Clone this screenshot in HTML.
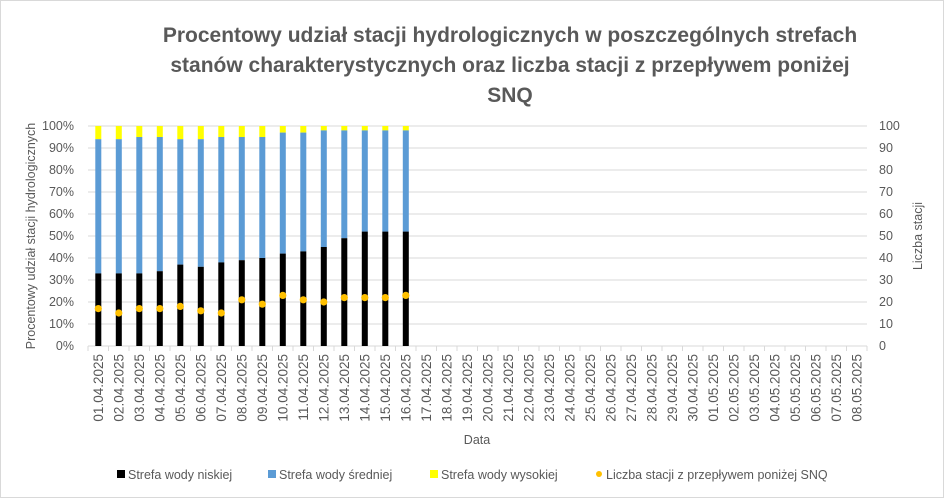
<!DOCTYPE html>
<html><head><meta charset="utf-8"><style>
html,body{margin:0;padding:0;background:#fff;}
svg{display:block;font-family:"Liberation Sans",sans-serif;}
</style></head><body>
<svg width="945" height="501" viewBox="0 0 945 501" xmlns="http://www.w3.org/2000/svg">
<rect x="0.5" y="0.5" width="943" height="497" fill="#fff" stroke="#d9d9d9"/>
<g font-weight="bold" font-size="21" fill="#595959" text-anchor="middle">
<text x="510" y="42">Procentowy udział stacji hydrologicznych w poszczególnych strefach</text>
<text x="510" y="72">stanów charakterystycznych oraz liczba stacji z przepływem poniżej</text>
<text x="510" y="102">SNQ</text>
</g>
<g stroke="#d9d9d9" stroke-width="1">
<line x1="88" x2="867" y1="126" y2="126"/><line x1="88" x2="867" y1="148" y2="148"/><line x1="88" x2="867" y1="170" y2="170"/><line x1="88" x2="867" y1="192" y2="192"/><line x1="88" x2="867" y1="214" y2="214"/><line x1="88" x2="867" y1="236" y2="236"/><line x1="88" x2="867" y1="258" y2="258"/><line x1="88" x2="867" y1="280" y2="280"/><line x1="88" x2="867" y1="302" y2="302"/><line x1="88" x2="867" y1="324" y2="324"/>
<line x1="88" x2="867" y1="346" y2="346"/>
<path d="M88,346v5M108.5,346v5M129,346v5M149.5,346v5M170,346v5M190.5,346v5M211,346v5M231.5,346v5M252,346v5M272.5,346v5M293,346v5M313.5,346v5M334,346v5M354.5,346v5M375,346v5M395.5,346v5M416,346v5M436.5,346v5M457,346v5M477.5,346v5M498,346v5M518.5,346v5M539,346v5M559.5,346v5M580,346v5M600.5,346v5M621,346v5M641.5,346v5M662,346v5M682.5,346v5M703,346v5M723.5,346v5M744,346v5M764.5,346v5M785,346v5M805.5,346v5M826,346v5M846.5,346v5M867,346v5"/>
</g>
<g font-size="12.5" fill="#595959" text-anchor="end">
<text x="74" y="130">100%</text><text x="74" y="152">90%</text><text x="74" y="174">80%</text><text x="74" y="196">70%</text><text x="74" y="218">60%</text><text x="74" y="240">50%</text><text x="74" y="262">40%</text><text x="74" y="284">30%</text><text x="74" y="306">20%</text><text x="74" y="328">10%</text><text x="74" y="350">0%</text>
</g>
<g font-size="12.5" fill="#595959" text-anchor="start">
<text x="879" y="130">100</text><text x="879" y="152">90</text><text x="879" y="174">80</text><text x="879" y="196">70</text><text x="879" y="218">60</text><text x="879" y="240">50</text><text x="879" y="262">40</text><text x="879" y="284">30</text><text x="879" y="306">20</text><text x="879" y="328">10</text><text x="879" y="350">0</text>
</g>
<text transform="translate(35,236) rotate(-90)" font-size="12.5" fill="#595959" text-anchor="middle">Procentowy udział stacji hydrologicznych</text>
<text transform="translate(922,236) rotate(-90)" font-size="12.5" fill="#595959" text-anchor="middle">Liczba stacji</text>
<g>
<rect x="95.3" y="126" width="6" height="13.2" fill="#ffff00"/><rect x="95.3" y="139.2" width="6" height="134.2" fill="#5b9bd5"/><rect x="95.3" y="273.4" width="6" height="72.6" fill="#000"/>
<rect x="115.8" y="126" width="6" height="13.2" fill="#ffff00"/><rect x="115.8" y="139.2" width="6" height="134.2" fill="#5b9bd5"/><rect x="115.8" y="273.4" width="6" height="72.6" fill="#000"/>
<rect x="136.3" y="126" width="6" height="11" fill="#ffff00"/><rect x="136.3" y="137" width="6" height="136.4" fill="#5b9bd5"/><rect x="136.3" y="273.4" width="6" height="72.6" fill="#000"/>
<rect x="156.8" y="126" width="6" height="11" fill="#ffff00"/><rect x="156.8" y="137" width="6" height="134.2" fill="#5b9bd5"/><rect x="156.8" y="271.2" width="6" height="74.8" fill="#000"/>
<rect x="177.3" y="126" width="6" height="13.2" fill="#ffff00"/><rect x="177.3" y="139.2" width="6" height="125.4" fill="#5b9bd5"/><rect x="177.3" y="264.6" width="6" height="81.4" fill="#000"/>
<rect x="197.8" y="126" width="6" height="13.2" fill="#ffff00"/><rect x="197.8" y="139.2" width="6" height="127.6" fill="#5b9bd5"/><rect x="197.8" y="266.8" width="6" height="79.2" fill="#000"/>
<rect x="218.3" y="126" width="6" height="11" fill="#ffff00"/><rect x="218.3" y="137" width="6" height="125.4" fill="#5b9bd5"/><rect x="218.3" y="262.4" width="6" height="83.6" fill="#000"/>
<rect x="238.8" y="126" width="6" height="11" fill="#ffff00"/><rect x="238.8" y="137" width="6" height="123.2" fill="#5b9bd5"/><rect x="238.8" y="260.2" width="6" height="85.8" fill="#000"/>
<rect x="259.3" y="126" width="6" height="11" fill="#ffff00"/><rect x="259.3" y="137" width="6" height="121" fill="#5b9bd5"/><rect x="259.3" y="258" width="6" height="88" fill="#000"/>
<rect x="279.8" y="126" width="6" height="6.6" fill="#ffff00"/><rect x="279.8" y="132.6" width="6" height="121" fill="#5b9bd5"/><rect x="279.8" y="253.6" width="6" height="92.4" fill="#000"/>
<rect x="300.3" y="126" width="6" height="6.6" fill="#ffff00"/><rect x="300.3" y="132.6" width="6" height="118.8" fill="#5b9bd5"/><rect x="300.3" y="251.4" width="6" height="94.6" fill="#000"/>
<rect x="320.8" y="126" width="6" height="4.4" fill="#ffff00"/><rect x="320.8" y="130.4" width="6" height="116.6" fill="#5b9bd5"/><rect x="320.8" y="247" width="6" height="99" fill="#000"/>
<rect x="341.3" y="126" width="6" height="4.4" fill="#ffff00"/><rect x="341.3" y="130.4" width="6" height="107.8" fill="#5b9bd5"/><rect x="341.3" y="238.2" width="6" height="107.8" fill="#000"/>
<rect x="361.8" y="126" width="6" height="4.4" fill="#ffff00"/><rect x="361.8" y="130.4" width="6" height="101.2" fill="#5b9bd5"/><rect x="361.8" y="231.6" width="6" height="114.4" fill="#000"/>
<rect x="382.3" y="126" width="6" height="4.4" fill="#ffff00"/><rect x="382.3" y="130.4" width="6" height="101.2" fill="#5b9bd5"/><rect x="382.3" y="231.6" width="6" height="114.4" fill="#000"/>
<rect x="402.8" y="126" width="6" height="4.4" fill="#ffff00"/><rect x="402.8" y="130.4" width="6" height="101.2" fill="#5b9bd5"/><rect x="402.8" y="231.6" width="6" height="114.4" fill="#000"/>
</g>
<g fill="#ffc000">
<circle cx="98.3" cy="308.6" r="3.6"/><circle cx="118.8" cy="313" r="3.6"/><circle cx="139.3" cy="308.6" r="3.6"/><circle cx="159.8" cy="308.6" r="3.6"/><circle cx="180.3" cy="306.4" r="3.6"/><circle cx="200.8" cy="310.8" r="3.6"/><circle cx="221.3" cy="313" r="3.6"/><circle cx="241.8" cy="299.8" r="3.6"/><circle cx="262.3" cy="304.2" r="3.6"/><circle cx="282.8" cy="295.4" r="3.6"/><circle cx="303.3" cy="299.8" r="3.6"/><circle cx="323.8" cy="302" r="3.6"/><circle cx="344.3" cy="297.6" r="3.6"/><circle cx="364.8" cy="297.6" r="3.6"/><circle cx="385.3" cy="297.6" r="3.6"/><circle cx="405.8" cy="295.4" r="3.6"/>
</g>
<g font-size="13.5" fill="#595959" text-anchor="end">
<text transform="translate(103,354) rotate(-90)">01.04.2025</text>
<text transform="translate(123.5,354) rotate(-90)">02.04.2025</text>
<text transform="translate(144,354) rotate(-90)">03.04.2025</text>
<text transform="translate(164.5,354) rotate(-90)">04.04.2025</text>
<text transform="translate(185,354) rotate(-90)">05.04.2025</text>
<text transform="translate(205.5,354) rotate(-90)">06.04.2025</text>
<text transform="translate(226,354) rotate(-90)">07.04.2025</text>
<text transform="translate(246.5,354) rotate(-90)">08.04.2025</text>
<text transform="translate(267,354) rotate(-90)">09.04.2025</text>
<text transform="translate(287.5,354) rotate(-90)">10.04.2025</text>
<text transform="translate(308,354) rotate(-90)">11.04.2025</text>
<text transform="translate(328.5,354) rotate(-90)">12.04.2025</text>
<text transform="translate(349,354) rotate(-90)">13.04.2025</text>
<text transform="translate(369.5,354) rotate(-90)">14.04.2025</text>
<text transform="translate(390,354) rotate(-90)">15.04.2025</text>
<text transform="translate(410.5,354) rotate(-90)">16.04.2025</text>
<text transform="translate(431,354) rotate(-90)">17.04.2025</text>
<text transform="translate(451.5,354) rotate(-90)">18.04.2025</text>
<text transform="translate(472,354) rotate(-90)">19.04.2025</text>
<text transform="translate(492.5,354) rotate(-90)">20.04.2025</text>
<text transform="translate(513,354) rotate(-90)">21.04.2025</text>
<text transform="translate(533.5,354) rotate(-90)">22.04.2025</text>
<text transform="translate(554,354) rotate(-90)">23.04.2025</text>
<text transform="translate(574.5,354) rotate(-90)">24.04.2025</text>
<text transform="translate(595,354) rotate(-90)">25.04.2025</text>
<text transform="translate(615.5,354) rotate(-90)">26.04.2025</text>
<text transform="translate(636,354) rotate(-90)">27.04.2025</text>
<text transform="translate(656.5,354) rotate(-90)">28.04.2025</text>
<text transform="translate(677,354) rotate(-90)">29.04.2025</text>
<text transform="translate(697.5,354) rotate(-90)">30.04.2025</text>
<text transform="translate(718,354) rotate(-90)">01.05.2025</text>
<text transform="translate(738.5,354) rotate(-90)">02.05.2025</text>
<text transform="translate(759,354) rotate(-90)">03.05.2025</text>
<text transform="translate(779.5,354) rotate(-90)">04.05.2025</text>
<text transform="translate(800,354) rotate(-90)">05.05.2025</text>
<text transform="translate(820.5,354) rotate(-90)">06.05.2025</text>
<text transform="translate(841,354) rotate(-90)">07.05.2025</text>
<text transform="translate(861.5,354) rotate(-90)">08.05.2025</text>
</g>
<text x="477" y="444" font-size="12.5" fill="#595959" text-anchor="middle">Data</text>
<g font-size="12.5" fill="#595959">
<rect x="117" y="470" width="8" height="8" fill="#000"/><text x="128" y="479">Strefa wody niskiej</text>
<rect x="268" y="470" width="8" height="8" fill="#5b9bd5"/><text x="279" y="479">Strefa wody średniej</text>
<rect x="430" y="470" width="8" height="8" fill="#ffff00"/><text x="441" y="479">Strefa wody wysokiej</text>
<circle cx="599" cy="474" r="3" fill="#ffc000"/><text x="606" y="479">Liczba stacji z przepływem poniżej SNQ</text>
</g>
</svg>
</body></html>
